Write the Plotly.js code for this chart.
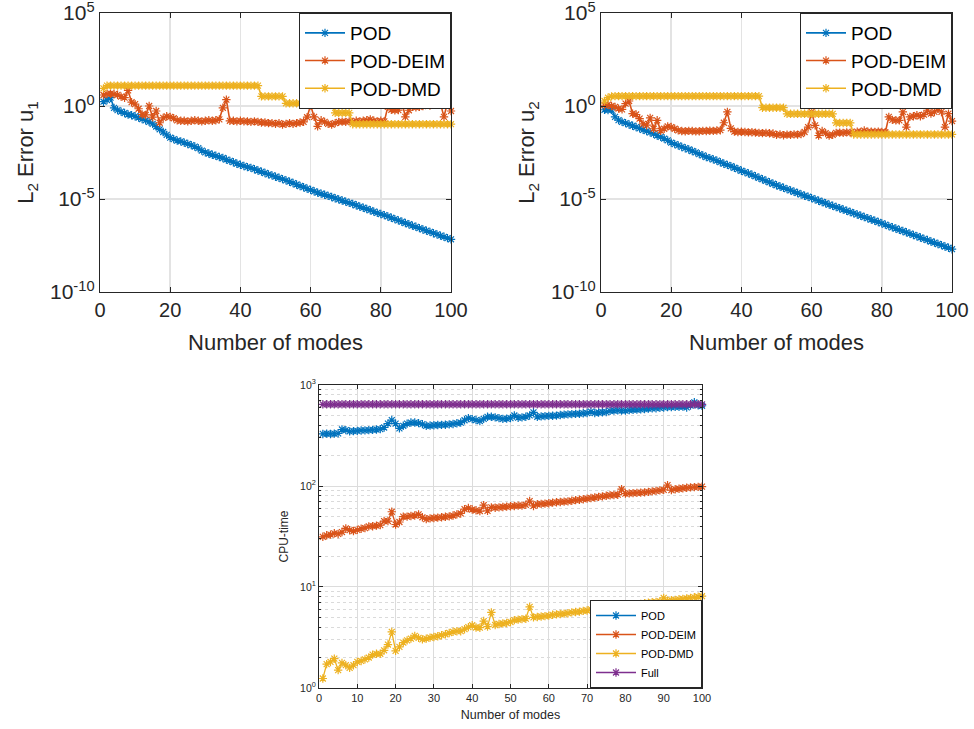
<!DOCTYPE html>
<html><head><meta charset="utf-8">
<script src="https://cdn.plot.ly/plotly-3.0.1.min.js"></script>
<style>html,body{margin:0;padding:0;background:#fff}#chart{width:974px;height:729px}</style>
</head><body><div id="chart"></div>
<script>
// ---------- DATA ----------
const modes = Array.from({length:100},(_,i)=>i+1);

const u1_POD = [1.7,2.1,2.8,0.79,0.6,0.5,0.42,0.35,0.32,0.28,
0.24,0.2,0.17,0.14,0.11,0.079,0.056,0.04,0.028,0.02,
0.0166,0.0138,0.0126,0.0107,0.0091,0.0079,0.0066,0.0054,0.004,0.0032,
0.0028,0.0024,0.0021,0.0018,0.0016,0.00132,0.00112,0.00095,0.00079,0.00069,
6.0e-4,5.2e-4,4.7e-4,4.0e-4,3.4e-4,2.95e-4,2.5e-4,2.1e-4,1.86e-4,1.58e-4,
1.38e-4,1.17e-4,1.0e-4,8.5e-5,7.2e-5,6.0e-5,5.0e-5,4.3e-5,3.6e-5,3.1e-5,
2.6e-5,2.2e-5,1.95e-5,1.7e-5,1.48e-5,1.29e-5,1.1e-5,9.5e-6,8.3e-6,7.2e-6,
6.2e-6,5.4e-6,4.6e-6,3.9e-6,3.4e-6,2.9e-6,2.5e-6,2.1e-6,1.8e-6,1.55e-6,
1.35e-6,1.15e-6,9.8e-7,8.3e-7,7.1e-7,6.0e-7,5.1e-7,4.4e-7,3.7e-7,3.2e-7,
2.7e-7,2.3e-7,2.0e-7,1.7e-7,1.45e-7,1.26e-7,1.07e-7,9.3e-8,7.9e-8,6.8e-8];

const u1_DEIM = [3.9,4.5,4.6,4.4,4.0,3.2,2.8,6.9,1.6,1.26,
0.71,0.35,0.33,1.0,0.25,0.54,0.126,0.23,0.28,0.26,
0.22,0.17,0.16,0.16,0.15,0.16,0.17,0.16,0.15,0.16,
0.17,0.16,0.17,0.19,0.8,2.2,0.16,0.16,0.15,0.16,
0.15,0.15,0.14,0.15,0.14,0.13,0.13,0.12,0.12,0.11,
0.12,0.1,0.11,0.12,0.11,0.12,0.13,0.14,0.25,1.1,
0.26,0.08,0.17,0.14,0.11,0.1,0.12,0.14,0.145,0.14,
0.15,0.14,0.16,0.15,0.16,0.17,0.19,0.16,0.15,0.16,
0.15,0.9,0.63,0.59,0.6,1.6,0.26,0.59,0.9,0.85,
0.9,1.0,1.8,1.07,1.5,2.3,1.35,0.26,1.6,0.54];

const u1_DMD = [8.9,12.5,12.5,12.5,12.5,12.5,12.5,12.5,12.5,12.5,
12.5,12.5,12.5,12.5,12.5,12.5,12.5,12.5,12.5,12.5,
12.5,12.5,12.5,12.5,12.5,12.5,12.5,12.5,12.5,12.5,
12.5,12.5,12.5,12.5,12.5,12.5,12.5,12.5,12.5,12.5,
12.5,12.5,12.5,12.5,12.5,3.3,3.3,3.3,3.3,3.3,
3.3,3.3,1.4,1.4,1.4,1.4,1.4,1.4,1.4,1.4,
1.4,1.4,1.4,1.4,1.4,1.4,0.43,0.43,0.43,0.43,
0.43,0.105,0.105,0.105,0.105,0.105,0.105,0.105,0.105,0.105,
0.105,0.105,0.105,0.105,0.105,0.105,0.105,0.105,0.105,0.105,
0.105,0.105,0.105,0.105,0.105,0.105,0.105,0.105,0.105,0.105];

const u2_POD = [0.63,0.6,0.63,0.26,0.174,0.141,0.12,0.102,0.087,0.074,
0.063,0.052,0.045,0.038,0.032,0.026,0.022,0.0178,0.0141,0.0107,
0.0089,0.0076,0.0063,0.0054,0.0046,0.0038,0.0032,0.0026,0.0022,0.0018,
0.00158,0.00135,0.00115,0.00095,0.00079,0.00068,0.00058,0.00048,0.0004,0.00033,
2.8e-4,2.4e-4,2.0e-4,1.66e-4,1.38e-4,1.15e-4,9.5e-5,7.9e-5,6.6e-5,5.5e-5,
4.7e-5,4.0e-5,3.4e-5,2.9e-5,2.45e-5,2.1e-5,1.78e-5,1.5e-5,1.32e-5,1.12e-5,
9.5e-6,8.1e-6,6.9e-6,5.9e-6,5.0e-6,4.3e-6,3.7e-6,3.2e-6,2.7e-6,2.35e-6,
2.0e-6,1.7e-6,1.48e-6,1.26e-6,1.07e-6,9.3e-7,7.9e-7,6.8e-7,5.8e-7,4.9e-7,
4.2e-7,3.5e-7,3.0e-7,2.6e-7,2.2e-7,1.9e-7,1.62e-7,1.38e-7,1.17e-7,1.0e-7,
8.5e-8,7.2e-8,6.2e-8,5.2e-8,4.5e-8,3.8e-8,3.3e-8,2.8e-8,2.4e-8,2.0e-8];

const u2_DEIM = [1.1,1.2,1.0,0.9,0.72,0.66,1.35,1.86,0.39,0.35,
0.21,0.11,0.093,0.23,0.06,0.17,0.047,0.06,0.08,0.074,
0.06,0.049,0.045,0.044,0.046,0.045,0.043,0.044,0.046,0.045,
0.047,0.046,0.048,0.05,0.126,0.48,0.063,0.042,0.04,0.041,
0.04,0.038,0.039,0.037,0.036,0.035,0.036,0.034,0.033,0.028,
0.03,0.027,0.029,0.028,0.03,0.029,0.031,0.04,0.074,0.48,
0.091,0.026,0.045,0.035,0.026,0.028,0.036,0.037,0.036,0.038,
0.037,0.036,0.042,0.04,0.048,0.042,0.041,0.04,0.042,0.04,
0.039,0.26,0.18,0.17,0.17,0.48,0.074,0.26,0.28,0.32,
0.28,0.34,0.59,0.39,0.48,0.72,0.48,0.074,0.39,0.155];

const u2_DMD = [1.86,2.8,3.3,3.4,3.4,3.4,3.4,3.4,3.4,3.4,
3.4,3.4,3.4,3.4,3.4,3.4,3.4,3.4,3.4,3.4,
3.4,3.4,3.4,3.4,3.4,3.4,3.4,3.4,3.4,3.4,
3.4,3.4,3.4,3.4,3.4,3.4,3.4,3.4,3.4,3.4,
3.4,3.4,3.4,3.4,3.4,0.81,0.81,0.81,0.81,0.81,
0.81,0.81,0.38,0.38,0.38,0.38,0.38,0.38,0.38,0.38,
0.38,0.38,0.38,0.38,0.38,0.38,0.123,0.123,0.123,0.123,
0.123,0.0295,0.0295,0.0295,0.0295,0.0295,0.0295,0.0295,0.0295,0.0295,
0.0295,0.0295,0.0295,0.0295,0.0295,0.0295,0.0295,0.0295,0.0295,0.0295,
0.0295,0.0295,0.0295,0.0295,0.0295,0.0295,0.0295,0.0295,0.0295,0.0295];

const cpu_POD = [328,330,328,330,332,363,358,348,350,352,
355,356,358,360,363,366,380,415,450,415,
372,395,415,425,425,420,410,395,397,400,
402,403,405,408,412,418,425,448,470,460,
450,440,462,485,485,478,470,462,465,470,
500,475,478,485,500,537,485,490,492,495,
497,498,505,510,512,515,518,520,525,528,
545,528,535,538,540,555,560,562,560,558,
565,570,572,575,578,585,588,590,595,600,
605,605,608,610,612,600,625,675,630,624];

const cpu_DEIM = [31.4,32.5,33,34,33.5,35,38,36.5,35.8,36.8,
37.8,38.3,39.8,40,40.5,41,45,45,55.6,41.6,
44,49.7,49.7,50.5,51,52.4,49,47,47.8,48.2,
48.6,49,49.6,50,51,52.4,53.5,59,60.5,58.5,
57.5,56.5,64.6,56.8,61.5,61,61.5,62,62.5,63,
63.5,64,64,65,71,63.5,66,66.5,67,67.5,
68.5,69,69.5,70,70.5,71.5,72.5,73,74,75,
76,77,78,79,80,81,81.5,82,93,84,
84.5,85,85.5,86,86.5,87.5,88.5,89.5,90.5,91.5,
102,91,93,94,95,96,97,97.5,98,98.5];

const cpu_DMD = [1.24,1.72,1.81,1.95,1.5,1.77,1.68,1.58,1.68,1.81,
1.85,1.92,2.0,2.14,2.18,2.18,2.36,2.69,3.59,2.33,
2.55,2.81,2.96,3.08,3.28,3.13,3.03,3.08,3.15,3.2,
3.25,3.33,3.4,3.5,3.6,3.65,3.65,3.82,4.0,4.18,
3.97,3.95,4.6,4.05,5.6,4.2,4.3,4.35,4.4,4.5,
4.7,4.75,4.8,4.85,6.35,5.0,5.05,5.1,5.15,5.2,
5.3,5.35,5.4,5.45,5.5,5.6,5.65,5.7,5.8,5.85,
6.0,6.05,6.6,6.0,6.1,6.2,6.3,6.35,6.4,6.5,
6.55,6.65,6.7,6.8,6.9,7.0,7.05,7.1,7.2,7.8,
7.3,7.4,7.45,7.55,7.6,7.7,7.8,7.9,8.0,8.1];

const cpu_Full = [645,645,645,645,645,645,645,645,645,645,
645,645,645,645,645,645,645,645,645,645,
645,645,645,645,645,645,645,645,645,645,
645,645,645,645,645,645,645,645,645,645,
645,645,645,645,645,645,645,645,645,645,
645,645,645,645,645,645,645,645,645,645,
645,645,645,645,645,645,645,645,645,645,
645,645,645,645,645,645,645,645,645,645,
645,645,645,645,645,645,645,645,645,645,
645,645,645,645,645,645,645,645,645,645];

const seriesNames = ['POD','POD-DEIM','POD-DMD','Full'];
const topXTicks = [0,20,40,60,80,100];
const topYTicks = [1e-10,1e-5,1,1e5];
const topYText = ['10<sup>-10</sup>','10<sup>-5</sup>','10<sup>0</sup>','10<sup>5</sup>'];
const botXTicks = [0,10,20,30,40,50,60,70,80,90,100];
const botYTicks = [1,10,100,1000];
const botYText = ['10<sup>0</sup>','10<sup>1</sup>','10<sup>2</sup>','10<sup>3</sup>'];
const botMinor = [2,3,4,5,6,7,8,9,20,30,40,50,60,70,80,90,200,300,400,500,600,700,800,900];

// ---------- STYLE ----------
const C = ['#0072BD','#D95319','#EDB120','#7E2F8E'];
const FONT = 'Liberation Sans, Arial, Helvetica, sans-serif';
const TXT = '#262626';

function tr(y, i, xa, ya, leg, lw, ms){
  return {x: modes, y: y, name: seriesNames[i], type:'scatter', mode:'lines+markers',
    xaxis: xa, yaxis: ya, legend: leg, showlegend: true, cliponaxis:false,
    line:{color:C[i], width:lw},
    marker:{symbol:'asterisk-open', size:ms, color:C[i], line:{color:C[i], width:1.2}}};
}

const data = [
  tr(u1_POD,0,'x','y','legend',1.6,7),
  tr(u1_DEIM,1,'x','y','legend',1.6,7),
  tr(u1_DMD,2,'x','y','legend',1.6,7),
  tr(u2_POD,0,'x2','y2','legend2',1.6,7),
  tr(u2_DEIM,1,'x2','y2','legend2',1.6,7),
  tr(u2_DMD,2,'x2','y2','legend2',1.6,7),
  tr(cpu_POD,0,'x3','y3','legend3',1.3,7),
  tr(cpu_DEIM,1,'x3','y3','legend3',1.3,7),
  tr(cpu_DMD,2,'x3','y3','legend3',1.3,7),
  tr(cpu_Full,3,'x3','y3','legend3',1.3,7)
];

function topX(dom, anchor){
  return {domain:dom, anchor:anchor, range:[0,100], tickvals:topXTicks, ticks:'inside', ticklen:5,
    tickcolor:TXT, showline:true, mirror:'ticks', linecolor:TXT, linewidth:1.2,
    showgrid:true, gridcolor:'#e3e3e3', gridwidth:1.5, zeroline:false,
    tickfont:{family:FONT,size:20,color:TXT}, ticklabeloverflow:'allow',
    title:{text:'Number of modes', font:{family:FONT,size:22,color:TXT}, standoff:14}};
}
function topY(dom, anchor, t){
  return {domain:dom, anchor:anchor, type:'log', range:[-10.0005,5.0005], tickvals:topYTicks, ticktext:topYText,
    ticks:'inside', ticklen:5, tickcolor:TXT, showline:true, mirror:'ticks', linecolor:TXT, linewidth:1.2,
    showgrid:true, gridcolor:'#e3e3e3', gridwidth:1.5, zeroline:false,
    tickfont:{family:FONT,size:21,color:TXT}, ticklabeloverflow:'allow',
    title:{text:t, font:{family:FONT,size:22,color:TXT}, standoff:10}};
}
function topLeg(xr){
  return {x:xr, xanchor:'right', y:1-13/729, yanchor:'top', bgcolor:'#fff', bordercolor:TXT, borderwidth:1,
    font:{family:FONT,size:19,color:'#000'}, itemwidth:40, tracegroupgap:0};
}

const layout = {
  width:974, height:729, margin:{l:0,r:0,t:0,b:0},
  paper_bgcolor:'#fff', plot_bgcolor:'#fff',
  xaxis: topX([100/974,451/974],'y'),
  yaxis: topY([1-292/729,1-13/729],'x','L<sub>2</sub> Error u<sub>1</sub>'),
  xaxis2: topX([601/974,952/974],'y2'),
  yaxis2: topY([1-292/729,1-13/729],'x2','L<sub>2</sub> Error u<sub>2</sub>'),
  xaxis3: {domain:[319/974,702/974], anchor:'y3', range:[0,100], tickvals:botXTicks, ticks:'inside', ticklen:4,
    tickcolor:TXT, showline:true, mirror:'ticks', linecolor:TXT, linewidth:1,
    showgrid:true, gridcolor:'#dcdcdc', zeroline:false, ticklabeloverflow:'allow',
    tickfont:{family:FONT,size:11,color:TXT},
    title:{text:'Number of modes', font:{family:FONT,size:12.5,color:TXT}, standoff:7}},
  yaxis3: {domain:[1-688/729,1-385/729], anchor:'x3', type:'log', range:[-0.0005,3.0005], tickvals:botYTicks, ticktext:botYText,
    ticks:'inside', ticklen:4, tickcolor:TXT, showline:true, mirror:'ticks', linecolor:TXT, linewidth:1,
    showgrid:true, gridcolor:'#dcdcdc', zeroline:false, ticklabeloverflow:'allow',
    minor:{tickvals:botMinor, ticks:'inside', ticklen:2, tickcolor:TXT, showgrid:true, gridcolor:'#dadada', griddash:'dot', gridwidth:1},
    tickfont:{family:FONT,size:10.5,color:TXT},
    title:{text:'CPU-time', font:{family:FONT,size:12,color:TXT}, standoff:8}},
  legend: topLeg(451/974),
  legend2: topLeg(952/974),
  legend3: {x:702/974, xanchor:'right', y:1-688/729, yanchor:'bottom', bgcolor:'#fff', bordercolor:TXT, borderwidth:1,
    font:{family:FONT,size:11,color:'#000'}, itemwidth:40, tracegroupgap:0},
  showlegend:true
};

Plotly.newPlot('chart', data, layout, {displayModeBar:false, staticPlot:true});
</script></body></html>
